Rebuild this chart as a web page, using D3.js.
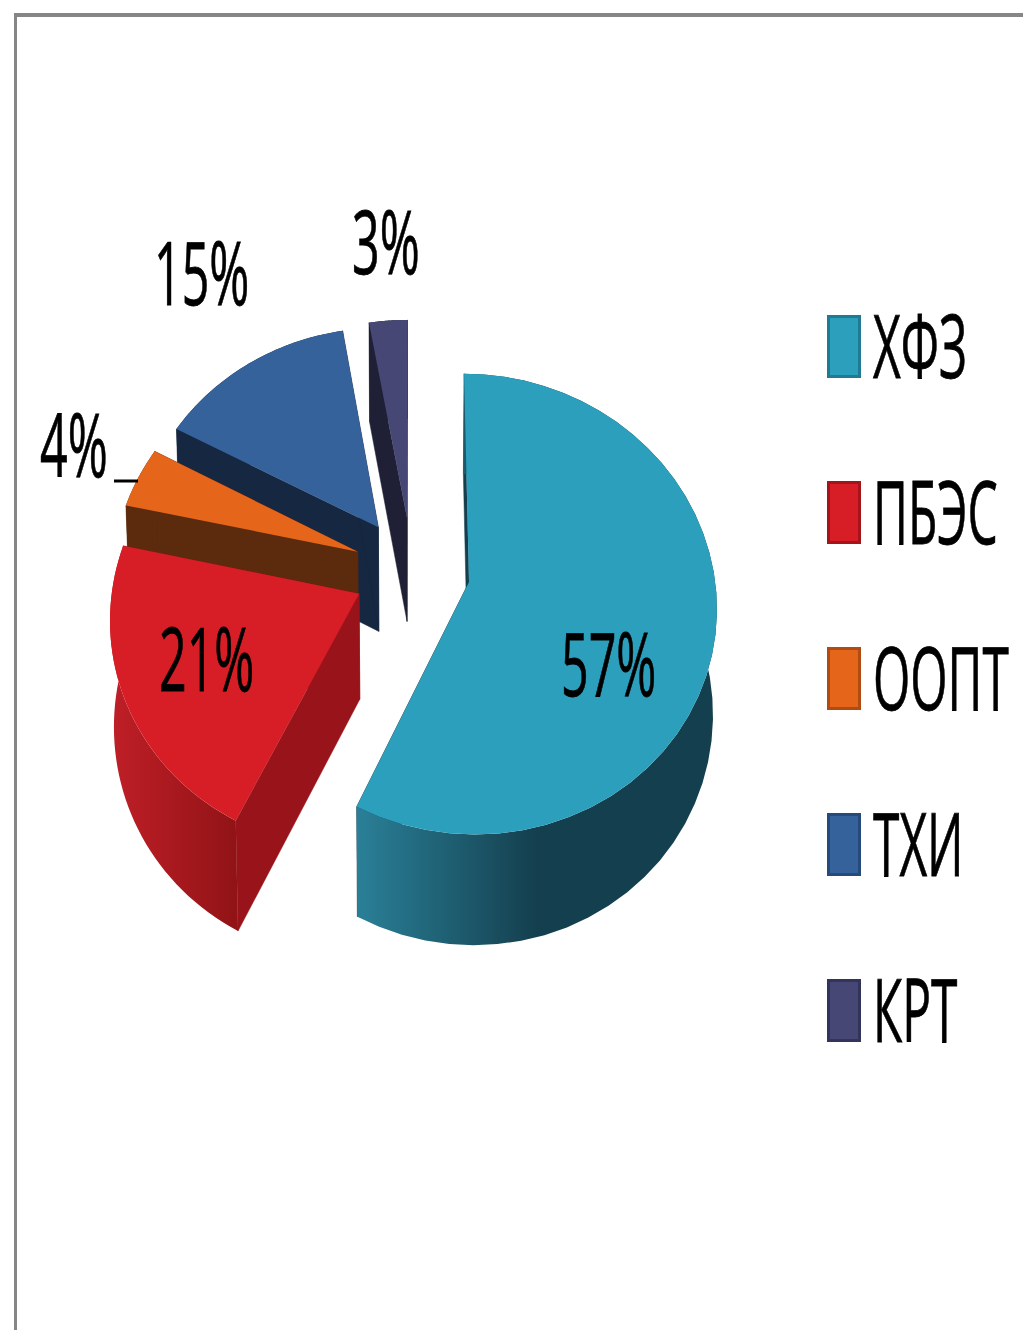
<!DOCTYPE html>
<meta charset="utf-8">
<style>
html, body { margin: 0; padding: 0; background: #fff; }
svg { display: block; }
text { font-family: "Open Sans", "Noto Sans", sans-serif; fill: #000; stroke: #000; }
</style>
<body>
<script src="https://d3js.org/d3.v7.min.js"></script>
<script>

var categories = ["ХФЗ", "ПБЭС", "ООПТ", "ТХИ", "КРТ"];
var values = [57.2, 21.2, 4.4, 14.4, 2.8];
var valueLabels = ["57%", "21%", "4%", "15%", "3%"];

var topColors = ["#2b9fbc", "#d71e26", "#e5651b", "#36629b", "#464775"];
var wallColors = ["#143f4e", "#99141a", "#5c2a0c", "#162741", "#1f2035"];
var legendEdges = ["#1f7a92", "#a5141b", "#b04c12", "#264a7a", "#33345a"];

var width = 1023, height = 1330;

// pie geometry: disc seen from above with a bit of perspective
var cx = 412, cy = 570, rx = 245, ry = 226, persp = 0.095, explode = 0.2376, depth = 105;

// label anchor = left end of text, baseline
var labelPos = [[561, 696], [159, 691], [40, 477], [154, 305], [352, 274]];

var svg = d3.select("body").append("svg")
  .attr("width", width).attr("height", height);

var defs = svg.append("defs");
var soft = defs.append("filter").attr("id", "soft");
soft.append("feGaussianBlur").attr("stdDeviation", 0.7);

var g0 = defs.append("linearGradient").attr("id", "wall0");
g0.append("stop").attr("offset", 0).attr("stop-color", "#2a8098");
g0.append("stop").attr("offset", 0.5).attr("stop-color", "#143f4e");
g0.append("stop").attr("offset", 1).attr("stop-color", "#143f4e");
var g1 = defs.append("linearGradient").attr("id", "wall1");
g1.append("stop").attr("offset", 0).attr("stop-color", "#c01f27");
g1.append("stop").attr("offset", 1).attr("stop-color", "#901316");

// frame
svg.append("line").attr("x1", 14).attr("x2", width).attr("y1", 15).attr("y2", 15)
  .attr("stroke", "#868686").attr("stroke-width", 4);
svg.append("line").attr("x1", 15.5).attr("x2", 15.5).attr("y1", 13).attr("y2", height)
  .attr("stroke", "#868686").attr("stroke-width", 3);

var pie = d3.pie().sort(null).value(function(d) { return d; });
var arcs = pie(values);

function project(X, Y, lower) {
  var w = 1 / (1 - persp * Y);
  var k = lower ? 0.987 : 1;
  return [cx + rx * X * w * k, cy + ry * Y * w + (lower ? depth * Math.sqrt(w) : 0)];
}

var line = d3.line().curve(d3.curveLinearClosed);

function sliceParts(a) {
  var mid = (a.startAngle + a.endAngle) / 2;
  var ax = explode * Math.sin(mid), ay = -explode * Math.cos(mid);
  var steps = d3.range(0, 41).map(function(i) {
    var t = a.startAngle + (a.endAngle - a.startAngle) * i / 40;
    return [ax + Math.sin(t), ay - Math.cos(t)];
  });
  return { ax: ax, ay: ay, rim: steps };
}

function up(p) { return project(p[0], p[1], false); }
function down(p) { return project(p[0], p[1], true); }

// back slices first, the big one and the red one last
var drawOrder = [4, 3, 2, 0, 1];
var pieG = svg.append("g");

drawOrder.forEach(function(i) {
  var s = sliceParts(arcs[i]);
  var apex = [s.ax, s.ay];
  var first = s.rim[0], last = s.rim[s.rim.length - 1];
  var group = pieG.append("g");

  // radial walls
  [first, last].forEach(function(p) {
    group.append("path")
      .attr("d", line([up(apex), up(p), down(p), down(apex)]))
      .attr("fill", wallColors[i])
      .attr("stroke", wallColors[i]).attr("stroke-width", 0.5);
  });

  // curved wall
  group.append("path")
    .attr("d", line(s.rim.map(up).concat(s.rim.slice().reverse().map(down))))
    .attr("fill", i < 2 ? "url(#wall" + i + ")" : wallColors[i]);

  // top
  group.append("path")
    .attr("d", line([up(apex)].concat(s.rim.map(up))))
    .attr("fill", topColors[i]);
});

// value labels
var labelG = svg.append("g").attr("filter", "url(#soft)");
valueLabels.forEach(function(t, i) {
  labelG.append("text")
    .attr("transform", "translate(" + labelPos[i][0] + "," + labelPos[i][1] + ") scale(0.55,1)")
    .attr("stroke-width", 0.8)
    .style("font-size", "88px")
    .text(t);
});

// leader of the 4% label
labelG.append("line").attr("x1", 114).attr("x2", 138).attr("y1", 481).attr("y2", 481)
  .attr("stroke", "#000").attr("stroke-width", 3);

// legend
var legendY = d3.scalePoint().domain(categories).range([346.5, 1010.5]);
var legend = svg.selectAll("g.legend").data(categories).enter().append("g")
  .attr("class", "legend")
  .attr("transform", function(d) { return "translate(827," + legendY(d) + ")"; });

legend.append("rect")
  .attr("x", 1.5).attr("y", -30).attr("width", 31).attr("height", 60)
  .attr("fill", function(d, i) { return topColors[i]; })
  .attr("stroke", function(d, i) { return legendEdges[i]; })
  .attr("stroke-width", 3);

legend.append("text")
  .attr("transform", "translate(46,31) scale(0.545,1)")
  .attr("filter", "url(#soft)")
  .attr("stroke-width", 0.8)
  .style("font-size", "88px")
  .text(function(d) { return d; });

</script>
</body>
